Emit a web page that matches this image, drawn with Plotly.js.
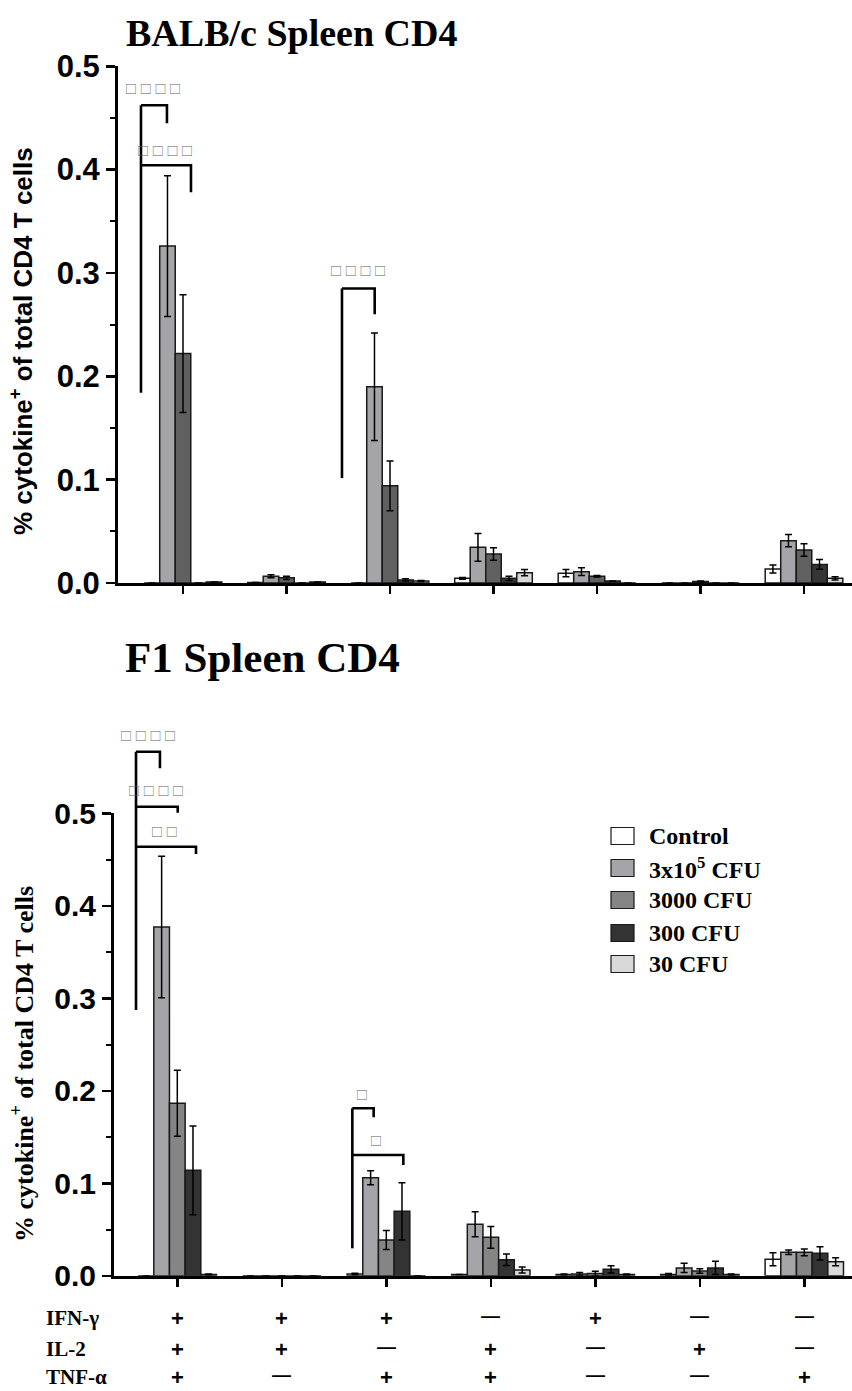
<!DOCTYPE html>
<html>
<head>
<meta charset="utf-8">
<script src="https://cdn.plot.ly/plotly-3.0.1.min.js"></script>
<style>
  html, body { margin: 0; padding: 0; background: #ffffff; }
  #chart { width: 852px; height: 1391px; }
</style>
</head>
<body>
<div id="chart"></div>
<script>
// Cytokine combinations (one group per column)
const groups = [0, 1, 2, 3, 4, 5, 6];
const seriesNames = ['Control', '3x10<sup>5</sup> CFU', '3000 CFU', '300 CFU', '30 CFU'];

// BALB/c spleen CD4: mean % cytokine+ and SEM per group
const balbControl    = [0.000, 0.0005, 0.000, 0.0045, 0.0095, 0.000, 0.0135];
const balbControlSem = [0.000, 0.000, 0.000, 0.0008, 0.0035, 0.000, 0.0038];
const balb3e5        = [0.326, 0.0065, 0.190, 0.0345, 0.011, 0.000, 0.041];
const balb3e5Sem     = [0.068, 0.0015, 0.052, 0.0135, 0.0037, 0.000, 0.006];
const balb3000       = [0.222, 0.005, 0.094, 0.028, 0.0065, 0.0015, 0.032];
const balb3000Sem    = [0.057, 0.0015, 0.024, 0.006, 0.0008, 0.0005, 0.006];
const balb300        = [0.000, 0.000, 0.003, 0.0045, 0.002, 0.000, 0.018];
const balb300Sem     = [0.000, 0.000, 0.001, 0.002, 0.000, 0.000, 0.0048];
const balb30         = [0.001, 0.001, 0.002, 0.010, 0.000, 0.000, 0.0045];
const balb30Sem      = [0.000, 0.000, 0.0005, 0.003, 0.000, 0.000, 0.0015];

// F1 spleen CD4: mean % cytokine+ and SEM per group
const f1Control    = [0.000, 0.000, 0.002, 0.0015, 0.0015, 0.0015, 0.018];
const f1ControlSem = [0.000, 0.000, 0.0008, 0.000, 0.0005, 0.001, 0.007];
const f13e5        = [0.377, 0.000, 0.106, 0.0557, 0.002, 0.0085, 0.0254];
const f13e5Sem     = [0.0765, 0.000, 0.0075, 0.0135, 0.0015, 0.005, 0.0024];
const f13000       = [0.1865, 0.000, 0.0387, 0.0416, 0.0025, 0.0052, 0.0254];
const f13000Sem    = [0.0357, 0.000, 0.0102, 0.0117, 0.0025, 0.0025, 0.0037];
const f1300        = [0.114, 0.000, 0.0697, 0.0174, 0.007, 0.0085, 0.0243];
const f1300Sem     = [0.048, 0.000, 0.031, 0.0063, 0.004, 0.0072, 0.0072];
const f130         = [0.0015, 0.000, 0.000, 0.0063, 0.0015, 0.0015, 0.0153];
const f130Sem      = [0.0005, 0.000, 0.000, 0.0032, 0.0005, 0.0005, 0.0043];

// Cytokine table under the lower panel
const tableRows = ['IFN-γ', 'IL-2', 'TNF-α'];
const ifnSigns  = ['+', '+', '+', '—', '+', '—', '—'];
const il2Signs  = ['+', '+', '—', '+', '—', '+', '—'];
const tnfSigns  = ['+', '—', '+', '+', '—', '—', '+'];

const colorsTop    = ['#ffffff', '#a5a5a9', '#606060', '#353535', '#d9d9d9'];
const colorsBottom = ['#ffffff', '#a5a5a9', '#858585', '#333333', '#d9d9d9'];

const W = 852, H = 1391;

// Axis geometry (pixels)
const topAx = { x0: 118, y0: 583, y1: 66.3, c0: 183, step: 103.5 };
const botAx = { x0: 114, y0: 1275.8, y1: 813.3, c0: 177.3, step: 104.5 };

function axisCfg(g) {
  return {
    xdomain: [g.x0 / W, 1],
    xrange: [(g.x0 - g.c0) / g.step, (W - g.c0) / g.step],
    ydomain: [1 - g.y0 / H, 1 - g.y1 / H],
    yrange: [0, 0.5]
  };
}
const A1 = axisCfg(topAx), A2 = axisCfg(botAx);

function px(a, v) { return a.xdomain[0] + (v - a.xrange[0]) / (a.xrange[1] - a.xrange[0]) * (a.xdomain[1] - a.xdomain[0]); }
function py(a, v) { return a.ydomain[0] + (v - a.yrange[0]) / (a.yrange[1] - a.yrange[0]) * (a.ydomain[1] - a.ydomain[0]); }

function barTrace(name, y, sem, color, xa, ya) {
  return {
    type: 'bar', name: name, x: groups, y: y, xaxis: xa, yaxis: ya,
    showlegend: false,
    marker: { color: color, line: { color: '#1a1a1a', width: 1.5 } },
    error_y: { type: 'data', array: sem, visible: true, color: '#000', thickness: 1.5, width: 3.5 },
    hoverinfo: 'skip'
  };
}

const topSets = [[balbControl, balbControlSem], [balb3e5, balb3e5Sem], [balb3000, balb3000Sem], [balb300, balb300Sem], [balb30, balb30Sem]];
const botSets = [[f1Control, f1ControlSem], [f13e5, f13e5Sem], [f13000, f13000Sem], [f1300, f1300Sem], [f130, f130Sem]];

const traces = [];
topSets.forEach((s, i) => traces.push(barTrace(seriesNames[i], s[0], s[1], colorsTop[i], 'x', 'y')));
botSets.forEach((s, i) => traces.push(barTrace(seriesNames[i], s[0], s[1], colorsBottom[i], 'x2', 'y2')));

const shapes = [];
const annotations = [];
const lineStyle = { color: '#000', width: 2.6 };

// Significance brackets: left x, right x (group units), top y, drop y (data units)
function bracket(a, xl, xr, yTop, yDrop) {
  shapes.push({ type: 'path', xref: 'paper', yref: 'paper', line: lineStyle,
    path: `M${px(a, xl)},${py(a, yTop)} L${px(a, xr)},${py(a, yTop)} L${px(a, xr)},${py(a, yDrop)}` });
}
function stem(a, x, yTop, yBot) {
  shapes.push({ type: 'line', xref: 'paper', yref: 'paper', line: lineStyle,
    x0: px(a, x), x1: px(a, x), y0: py(a, yTop), y1: py(a, yBot) });
}
function star(a, x, y, txt) {
  annotations.push({ xref: 'paper', yref: 'paper', x: px(a, x), y: py(a, y), text: txt, showarrow: false,
    xanchor: 'center', yanchor: 'middle', font: { family: 'Noto Sans CJK SC', size: 12, color: '#606060' } });
}

// BALB/c brackets
stem(A1, -0.406, 0.4623, 0.184);
bracket(A1, -0.406, -0.155, 0.4623, 0.445);
bracket(A1, -0.406, 0.077, 0.4043, 0.378);
star(A1, -0.29, 0.4787, '□ □ □ □');
star(A1, -0.174, 0.4188, '□ □ □ □');
stem(A1, 1.536, 0.285, 0.1015);
bracket(A1, 1.536, 1.852, 0.285, 0.260);
star(A1, 1.686, 0.302, '□ □ □ □');

// F1 brackets
stem(A2, -0.395, 0.5666, 0.2874);
bracket(A2, -0.395, -0.166, 0.5666, 0.5486);
bracket(A2, -0.395, 0.004, 0.5071, 0.5006);
bracket(A2, -0.395, 0.179, 0.4639, 0.456);
star(A2, -0.285, 0.5836, '□ □ □ □');
star(A2, -0.204, 0.5247, '□ □ □ □');
star(A2, -0.118, 0.480, '□ □');
stem(A2, 1.675, 0.1811, 0.0297);
bracket(A2, 1.675, 1.879, 0.1811, 0.1714);
bracket(A2, 1.675, 2.163, 0.1306, 0.1198);
star(A2, 1.770, 0.1965, '□');
star(A2, 1.901, 0.1468, '□');

// Panel titles
annotations.push({ xref: 'paper', yref: 'paper', x: 124 / W, y: 1 - 33 / H, xanchor: 'left', yanchor: 'middle',
  text: 'BALB/c Spleen CD4', showarrow: false,
  font: { family: 'Liberation Serif', size: 38, weight: 'bold', color: '#000' } });
annotations.push({ xref: 'paper', yref: 'paper', x: 123 / W, y: 1 - 657 / H, xanchor: 'left', yanchor: 'middle',
  text: 'F1 Spleen CD4', showarrow: false,
  font: { family: 'Liberation Serif', size: 43, weight: 'bold', color: '#000' } });

// Y-axis titles
annotations.push({ xref: 'paper', yref: 'paper', x: 22 / W, y: 1 - 341 / H, xanchor: 'center', yanchor: 'middle',
  textangle: -90, text: '% cytokine<sup>+</sup> of total CD4 T cells', showarrow: false,
  font: { family: 'Liberation Sans', size: 26, weight: 'bold', color: '#000' } });
annotations.push({ xref: 'paper', yref: 'paper', x: 22 / W, y: 1 - 1064 / H, xanchor: 'center', yanchor: 'middle',
  textangle: -90, text: '% cytokine<sup>+</sup> of total CD4 T cells', showarrow: false,
  font: { family: 'Liberation Serif', size: 26, weight: 'bold', color: '#000' } });

// Legend (bottom panel)
const legendY = [836, 868, 900, 933, 964];
seriesNames.forEach((n, i) => {
  shapes.push({ type: 'rect', xref: 'paper', yref: 'paper',
    x0: 611 / W, x1: 634 / W, y0: 1 - (legendY[i] + 8.5) / H, y1: 1 - (legendY[i] - 8.5) / H,
    fillcolor: colorsBottom[i], line: { color: '#1a1a1a', width: 1.2 } });
  annotations.push({ xref: 'paper', yref: 'paper', x: 647 / W, y: 1 - legendY[i] / H, xanchor: 'left', yanchor: 'middle',
    text: n, showarrow: false, font: { family: 'Liberation Serif', size: 24, weight: 'bold', color: '#000' } });
});

// Cytokine table
const rowY = [1318, 1349, 1377];
const signRows = [ifnSigns, il2Signs, tnfSigns];
tableRows.forEach((r, i) => {
  annotations.push({ xref: 'paper', yref: 'paper', x: 44 / W, y: 1 - rowY[i] / H, xanchor: 'left', yanchor: 'middle',
    text: r, showarrow: false, font: { family: 'Liberation Serif', size: 21, weight: 'bold', color: '#000' } });
  signRows[i].forEach((s, j) => {
    annotations.push({ xref: 'paper', yref: 'paper', x: px(A2, groups[j]), y: 1 - rowY[i] / H,
      xanchor: 'center', yanchor: 'middle', yshift: s === '+' ? 0 : 3,
      text: s, showarrow: false, font: { family: 'Liberation Sans', size: s === '+' ? 22 : 19, weight: 'bold', color: '#000' } });
  });
});

function xAxis(a, anchor) {
  return {
    domain: a.xdomain, range: a.xrange, anchor: anchor,
    tickmode: 'array', tickvals: groups, showticklabels: false,
    ticks: 'outside', ticklen: 8, tickwidth: 2.5, tickcolor: '#000',
    showline: true, linecolor: '#000', linewidth: 3,
    showgrid: false, zeroline: false, fixedrange: true
  };
}
function yAxis(a, anchor, size) {
  return {
    domain: a.ydomain, range: a.yrange, anchor: anchor,
    tick0: 0, dtick: 0.1, tickformat: '.1f',
    ticks: 'outside', ticklen: 9, tickwidth: 2.5, tickcolor: '#000',
    minor: { ticks: 'outside', ticklen: 5, tickwidth: 2, tickcolor: '#000', dtick: 0.05, tick0: 0, showgrid: false },
    tickfont: { family: 'Liberation Sans', size: size, weight: 'bold', color: '#000' },
    showline: true, linecolor: '#000', linewidth: 3,
    showgrid: false, zeroline: false, fixedrange: true
  };
}

const layout = {
  width: W, height: H,
  margin: { l: 0, r: 0, t: 0, b: 0 },
  paper_bgcolor: '#ffffff', plot_bgcolor: '#ffffff',
  barmode: 'group', bargap: 0.25, bargroupgap: 0,
  showlegend: false,
  xaxis: xAxis(A1, 'y'), yaxis: yAxis(A1, 'x', 31),
  xaxis2: xAxis(A2, 'y2'), yaxis2: yAxis(A2, 'x2', 30),
  shapes: shapes, annotations: annotations
};

Plotly.newPlot('chart', traces, layout, { displayModeBar: false, staticPlot: true });
</script>
</body>
</html>
